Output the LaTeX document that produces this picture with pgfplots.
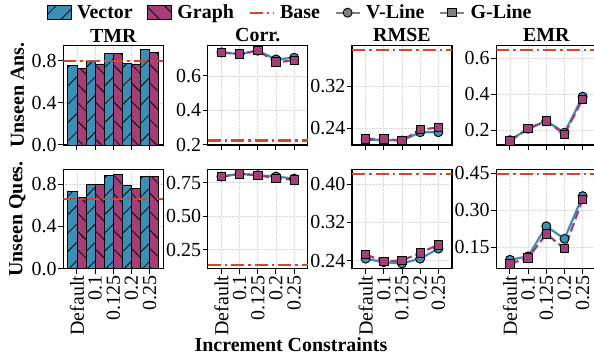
\documentclass[border=0pt]{standalone}
\usepackage{pgfplots}
\pgfplotsset{compat=1.18}
\usepackage{pgfplotstable}
\usepackage{fontspec}
\setmainfont{Liberation Serif}
\usetikzlibrary{patterns.meta}

\definecolor{vblue}{RGB}{58,143,183}
\definecolor{gmag}{RGB}{165,62,118}
\definecolor{basered}{RGB}{210,72,42}

% columns: x, Vector/V-Line, Graph/G-Line
\pgfplotstableread{
x V G
0 0.752 0.730
1 0.790 0.770
2 0.866 0.873
3 0.778 0.770
4 0.905 0.883
}\tmrA
\pgfplotstableread{
x V G
0 0.737 0.737
1 0.727 0.727
2 0.747 0.747
3 0.696 0.681
4 0.706 0.689
}\corrA
\pgfplotstableread{
x V G
0 0.218 0.219
1 0.217 0.219
2 0.216 0.216
3 0.232 0.237
4 0.232 0.241
}\rmseA
\pgfplotstableread{
x V G
0 0.145 0.141
1 0.209 0.209
2 0.252 0.252
3 0.187 0.178
4 0.387 0.373
}\emrA
\pgfplotstableread{
x V G
0 0.730 0.673
1 0.800 0.792
2 0.884 0.893
3 0.786 0.758
4 0.871 0.871
}\tmrB
\pgfplotstableread{
x V G
0 0.795 0.795
1 0.815 0.815
2 0.805 0.805
3 0.795 0.783
4 0.780 0.770
}\corrB
\pgfplotstableread{
x V G
0 0.2440 0.2525
1 0.2365 0.2386
2 0.2340 0.2400
3 0.2440 0.2560
4 0.2650 0.2730
}\rmseB
\pgfplotstableread{
x V G
0 0.100 0.084
1 0.114 0.108
2 0.236 0.205
3 0.185 0.145
4 0.358 0.345
}\emrB

\pgfplotsset{
 panel/.style={
  scale only axis, width=100bp, height=99.5bp,
  xmin=-0.75, xmax=4.75, xtick={0,1,2,3,4},
  tick pos=left, tick align=outside, major tick length=5bp,
  tick style={black, line width=1bp},
  axis line style={black, line width=1.2bp},
  grid=major, grid style={densely dotted, black!14, line width=0.7bp},
  ticklabel style={font=\fontsize{20}{20}\selectfont},
  /pgf/number format/assume math mode=true,
  yticklabel style={inner sep=1.5bp},
  xticklabel style={rotate=90, anchor=east, inner sep=2bp},
  every axis title/.style={font=\bfseries\fontsize{20}{20}\selectfont, at={(0.5,1)}, anchor=base, yshift=3.5bp, inner sep=0pt},
  ylabel style={font=\bfseries\fontsize{20}{20}\selectfont, at={([xshift=-45.8bp]rel axis cs:0,0.5)}, anchor=center, inner sep=0pt},
 },
 toprow/.style={xticklabels={}},
 botrow/.style={xticklabels={Default,0.1,0.125,0.2,0.25}},
 barlegend/.style={legend image code/.code={\draw[##1] (0bp,-7bp) rectangle (24bp,7bp);}},
 mylinelegend/.style={legend image code/.code={\draw[mark repeat=2,mark phase=2,##1] plot coordinates {(0bp,0bp) (12bp,0bp) (24bp,0bp)};}},
 vbar/.style={ybar, bar width=0.5, bar shift=-0.25, fill=vblue, draw=black, line width=0.8bp,
   postaction={pattern={Lines[angle=45,distance=13bp,line width=0.8bp]}, pattern color=black}, barlegend},
 gbar/.style={ybar, bar width=0.5, bar shift=0.25, fill=gmag, draw=black, line width=0.8bp,
   postaction={pattern={Lines[angle=-45,distance=13bp,line width=0.8bp]}, pattern color=black}, barlegend},
 vline/.style={color=vblue, line width=2.2bp, mark=*, mark size=4.5bp,
   mark options={fill=vblue, draw=black, line width=0.9bp, solid}, mylinelegend},
 gline/.style={color=gmag, line width=2.2bp, dash pattern=on 9bp off 4bp, mark=square*, mark size=4.2bp,
   mark options={fill=gmag, draw=black, line width=0.9bp, solid}, mylinelegend},
 baseline/.style={color=basered, line width=2.2bp, dash pattern=on 13bp off 4bp on 2.5bp off 4bp, mylinelegend},
}

\begin{document}
\begin{tikzpicture}
\useasboundingbox (0,0) rectangle (594bp,356bp);

% ---------- Row 1: Unseen Ans. ----------
\begin{axis}[panel, toprow, at={(63.3bp,211bp)}, anchor=south west,
  ymin=0, ymax=0.945, ytick={0,0.4,0.8}, yticklabels={0.0,0.4,0.8},
  title={TMR}, ylabel={Unseen Ans.},
  legend columns=5,
  legend style={at={(-0.168,1.33)}, anchor=west, draw=none, fill=none,
    font=\bfseries\fontsize{20}{20}\selectfont, inner sep=0pt,
    nodes={inner sep=1.5bp},
    /tikz/every odd column/.append style={column sep=4bp},
    /tikz/every even column/.append style={column sep=13bp}}]
\addplot[vbar] table[x=x,y=V]{\tmrA};
\addplot[gbar] table[x=x,y=G]{\tmrA};
\addplot[baseline] coordinates {(-0.75,0.8) (4.75,0.8)};
\addlegendimage{color=gray, line width=2.2bp, mark=*, mark size=4.5bp, mark options={fill=gray, draw=black, line width=0.9bp}, mylinelegend}
\addlegendimage{color=gray, line width=2.2bp, mark=square*, mark size=4.2bp, mark options={fill=gray, draw=black, line width=0.9bp}, mylinelegend}
\legend{Vector, Graph, Base, V-Line, G-Line}
\end{axis}

\begin{axis}[panel, toprow, at={(207.8bp,211bp)}, anchor=south west,
  ymin=0.199, ymax=0.777, ytick={0.2,0.4,0.6}, yticklabels={0.2,0.4,0.6},
  title={Corr.}]
\addplot[baseline] coordinates {(-0.75,0.225) (4.75,0.225)};
\addplot[vline] table[x=x,y=V]{\corrA};
\addplot[gline] table[x=x,y=G]{\corrA};
\end{axis}

\begin{axis}[panel, toprow, at={(352bp,211bp)}, anchor=south west,
  ymin=0.2075, ymax=0.3987, ytick={0.24,0.32}, yticklabels={0.24,0.32},
  title={RMSE}]
\addplot[baseline] coordinates {(-0.75,0.39) (4.75,0.39)};
\addplot[vline] table[x=x,y=V]{\rmseA};
\addplot[gline] table[x=x,y=G]{\rmseA};
\end{axis}

\begin{axis}[panel, toprow, at={(496.3bp,211bp)}, anchor=south west,
  ymin=0.1185, ymax=0.671, ytick={0.2,0.4,0.6}, yticklabels={0.2,0.4,0.6},
  title={EMR}]
\addplot[baseline] coordinates {(-0.75,0.646) (4.75,0.646)};
\addplot[vline] table[x=x,y=V]{\emrA};
\addplot[gline] table[x=x,y=G]{\emrA};
\end{axis}

% ---------- Row 2: Unseen Ques. ----------
\begin{axis}[panel, botrow, at={(63.3bp,87.3bp)}, anchor=south west,
  ymin=0, ymax=0.94, ytick={0,0.4,0.8}, yticklabels={0.0,0.4,0.8},
  ylabel={Unseen Ques.}]
\addplot[vbar] table[x=x,y=V]{\tmrB};
\addplot[gbar] table[x=x,y=G]{\tmrB};
\addplot[baseline] coordinates {(-0.75,0.66) (4.75,0.66)};
\end{axis}

\begin{axis}[panel, botrow, at={(207.8bp,87.3bp)}, anchor=south west,
  ymin=0.107, ymax=0.85, ytick={0.25,0.5,0.75}, yticklabels={0.25,0.50,0.75}]
\addplot[baseline] coordinates {(-0.75,0.137) (4.75,0.137)};
\addplot[vline] table[x=x,y=V]{\corrB};
\addplot[gline] table[x=x,y=G]{\corrB};
\end{axis}

\begin{axis}[panel, botrow, at={(352bp,87.3bp)}, anchor=south west,
  ymin=0.223, ymax=0.431, ytick={0.24,0.32,0.40}, yticklabels={0.24,0.32,0.40}]
\addplot[baseline] coordinates {(-0.75,0.421) (4.75,0.421)};
\addplot[vline] table[x=x,y=V]{\rmseB};
\addplot[gline] table[x=x,y=G]{\rmseB};
\end{axis}

\begin{axis}[panel, botrow, at={(496.3bp,87.3bp)}, anchor=south west,
  ymin=0.064, ymax=0.467, ytick={0.15,0.30,0.45}, yticklabels={0.15,0.30,0.45}]
\addplot[baseline] coordinates {(-0.75,0.446) (4.75,0.446)};
\addplot[vline] table[x=x,y=V]{\emrB};
\addplot[gline] table[x=x,y=G]{\emrB};
\end{axis}

\node[anchor=base, font=\bfseries\fontsize{20}{20}\selectfont] at (291bp,4.3bp) {Increment Constraints};
\end{tikzpicture}
\end{document}
